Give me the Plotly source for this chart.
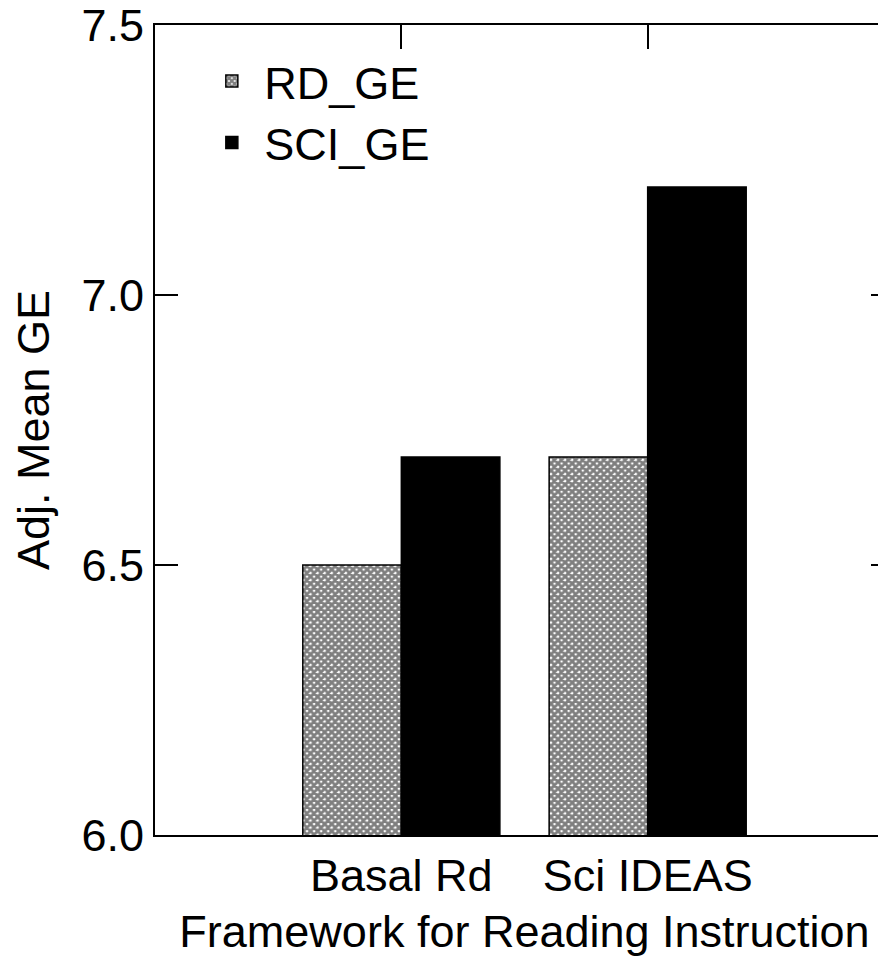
import plotly.graph_objects as go

categories = ["Basal Rd", "Sci IDEAS"]
rd_ge = [6.5, 6.7]
sci_ge = [6.7, 7.2]
y_ticks = [6.0, 6.5, 7.0, 7.5]
y_ticktext = ["6.0", "6.5", "7.0", "7.5"]

FONT = "Liberation Sans, Arial, sans-serif"
FS = 45

fig = go.Figure()
fig.add_trace(go.Bar(
    name="RD_GE", x=categories, y=rd_ge,
    marker=dict(color="white", line=dict(color="black", width=1.5),
                pattern=dict(shape="x", size=5, solidity=0.8, fgcolor="black", bgcolor="white")),
))
fig.add_trace(go.Bar(
    name="SCI_GE", x=categories, y=sci_ge,
    marker=dict(color="black", line=dict(color="black", width=1.5)),
))

fig.update_layout(
    width=886, height=960,
    margin=dict(l=147, r=0, t=17, b=133),
    paper_bgcolor="white", plot_bgcolor="white",
    font=dict(family=FONT, size=FS, color="black"),
    barmode="group", bargap=0.2, bargroupgap=0,
    showlegend=True,
    legend=dict(x=0.06, y=0.975, xanchor="left", yanchor="top",
                bgcolor="rgba(0,0,0,0)", font=dict(size=FS), itemwidth=55,
                tracegroupgap=0),
    xaxis=dict(
        range=[-1.0, 2.0], showline=True, linecolor="black", linewidth=2,
        mirror="ticks", ticks="inside", ticklen=24, tickwidth=2, tickcolor="black",
        showgrid=False, zeroline=False, layer="below traces", automargin=False,
        title=dict(text="Framework for Reading Instruction", standoff=15,
                   font=dict(size=FS)),
    ),
    yaxis=dict(
        range=[6.0, 7.5], tickvals=y_ticks, ticktext=y_ticktext,
        showline=True, linecolor="black", linewidth=2, mirror="ticks",
        ticks="inside", ticklen=23, tickwidth=2, tickcolor="black",
        showgrid=False, zeroline=False, automargin=False,
        ticklabeloverflow="allow",
        title=dict(text="Adj. Mean GE", standoff=25, font=dict(size=FS)),
    ),
)

fig.write_html("out.html")
